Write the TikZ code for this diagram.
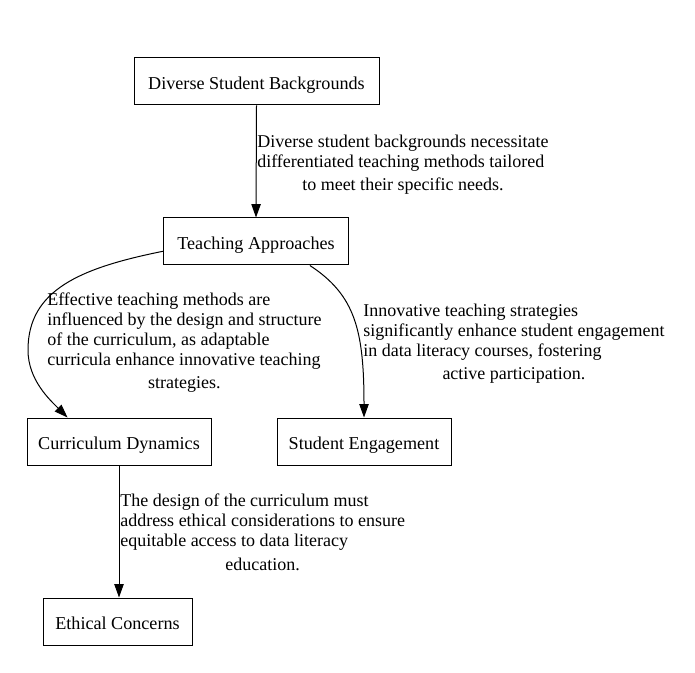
\documentclass[tikz,border=0pt]{standalone}
\usepackage{fontspec}
\setmainfont{Liberation Serif}
\usetikzlibrary{arrows.meta}
\begin{document}
\begin{tikzpicture}[x=0.75pt,y=-0.75pt,
  box/.style={draw, line width=0.75pt, inner sep=0pt, minimum height=35.25pt, text height=12pt, text depth=0pt, font=\fontsize{13.6}{15}\selectfont},
  lbl/.style={inner sep=0pt, anchor=west, font=\fontsize{13.5}{15}\selectfont},
  edge/.style={draw, line width=0.75pt, -{Triangle[length=10pt,width=7pt]}}]
\useasboundingbox (0,0) rectangle (695,673);
\node[box, minimum width=183.75pt] (dsb) at (256.5,81.5) {Diverse Student Backgrounds};
\node[box, minimum width=138.75pt] (ta) at (256,241.5) {Teaching Approaches};
\node[box, minimum width=138pt] (cd) at (119,441.5) {Curriculum Dynamics};
\node[box, minimum width=130.5pt] (se) at (364,441.5) {Student Engagement};
\node[box, minimum width=111.75pt] (ec) at (117.5,621.5) {Ethical Concerns};

\draw[edge] (dsb.south) -- (ta.north);
\draw[edge] (ta.186.5) .. controls (80,268) and (28,290) .. (28,350) .. controls (28,380) and (50,400) .. (cd.155.7);
\draw[edge] (ta.336.7) .. controls (355,295) and (364,330) .. (se.north);
\draw[edge] (cd.south) -- (cd.south |- ec.north);

\node[lbl] (l1) at (257,165) {\begin{tabular}{@{}l@{}}Diverse student backgrounds necessitate\\differentiated teaching methods tailored\\[2.5pt]\multicolumn{1}{@{}c@{}}{to meet their specific needs.}\end{tabular}};
\node[lbl] (l2) at (47,343) {\begin{tabular}{@{}l@{}}Effective teaching methods are\\influenced by the design and structure\\of the curriculum, as adaptable\\curricula enhance innovative teaching\\[2.5pt]\multicolumn{1}{@{}c@{}}{strategies.}\end{tabular}};
\node[lbl] (l3) at (363,344) {\begin{tabular}{@{}l@{}}Innovative teaching strategies\\significantly enhance student engagement\\in data literacy courses, fostering\\[2.5pt]\multicolumn{1}{@{}c@{}}{active participation.}\end{tabular}};
\node[lbl] (l4) at (120,534.5) {\begin{tabular}{@{}l@{}}The design of the curriculum must\\address ethical considerations to ensure\\equitable access to data literacy\\[2.5pt]\multicolumn{1}{@{}c@{}}{education.}\end{tabular}};
\end{tikzpicture}
\end{document}
